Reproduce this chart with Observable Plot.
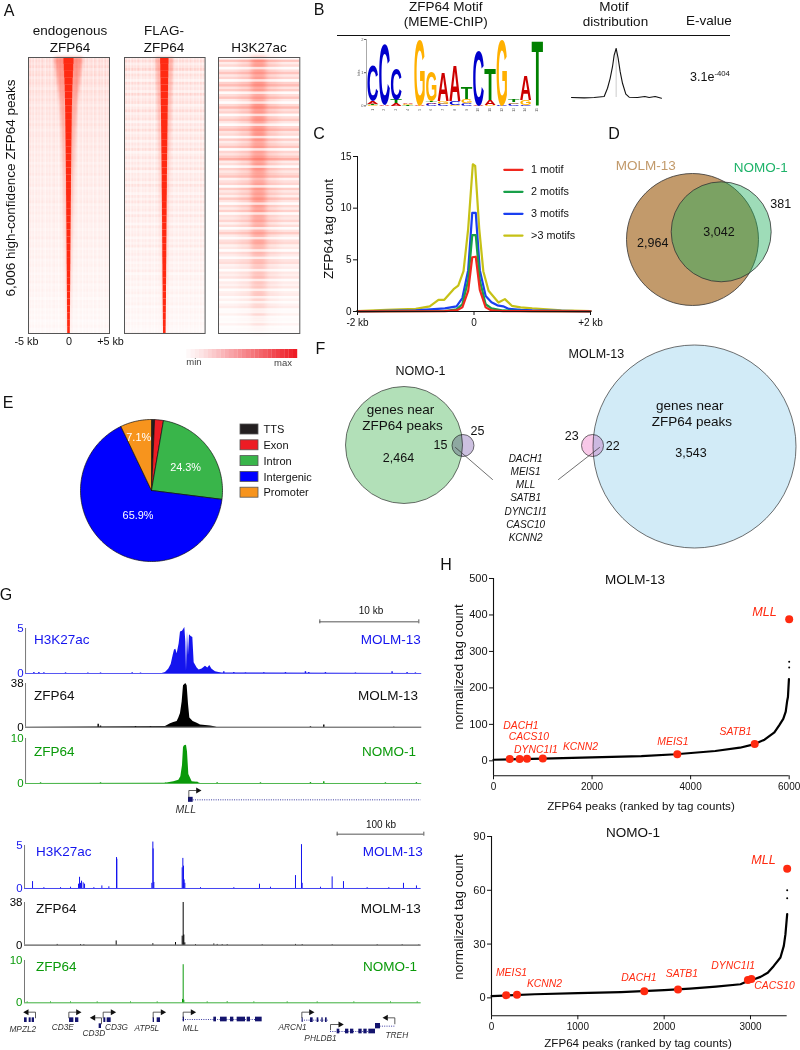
<!DOCTYPE html>
<html><head><meta charset="utf-8">
<style>
html,body{margin:0;padding:0;background:#fff}
#fig{position:relative;width:800px;height:1050px;overflow:hidden;font-family:"Liberation Sans",Arial,sans-serif;color:#111}
.n{position:absolute;white-space:nowrap;transform:translate(-50%,-50%);line-height:1}
.n sup{font-size:.62em;line-height:0}
svg{font-family:"Liberation Sans",Arial,sans-serif}
</style>
<script src="https://cdn.jsdelivr.net/npm/d3@7"></script>
<script src="https://cdn.jsdelivr.net/npm/@observablehq/plot@0.6"></script>
</head><body><div id="fig"></div>
<script>
// ---------- A: heat-map row summaries (top to bottom; half-widths in kb, levels 0-1)
const endoCore=[.62,.58,.54,.5,.47,.45,.43,.41,.4,.39,.38,.37,.36,.35,.34,.33,.32,.31,.3,.3,.29,.28,.28,.27,.26,.25,.25,.24,.23,.23,.22,.21,.21,.20,.19,.19,.18,.17,.17,.16];
const endoHaloW=[1.7,1.6,1.5,1.4,1.3,1.2,1.1,1.05,1,.95,.9,.85,.85,.8,.8,.75,.7,.7,.65,.65,.65,.6,.6,.55,.55,.55,.5,.5,.45,.45,.45,.4,.4,.4,.35,.35,.35,.3,.3,.3];
const endoHaloL=[.45,.42,.4,.38,.36,.34,.32,.32,.3,.3,.28,.28,.26,.25,.25,.24,.24,.22,.22,.22,.2,.2,.2,.18,.18,.18,.16,.16,.15,.15,.14,.14,.13,.12,.12,.11,.1,.1,.09,.08];
const endoBg=[.16,.2,.17,.22,.15,.19,.21,.14,.18,.2,.16,.13,.19,.17,.14,.18,.15,.12,.17,.14,.16,.13,.15,.12,.16,.13,.11,.14,.15,.12,.13,.11,.14,.12,.1,.13,.11,.12,.09,.12,.1,.11,.13,.09,.11,.1,.12,.08,.1,.11,.09,.1,.12,.08,.1,.09,.11,.08,.09,.1,.08,.09,.07,.09,.08,.1,.07,.08,.09,.06,.08,.07,.09,.06,.07,.08,.06,.07,.05,.07,.06,.08,.05,.06,.07,.05,.06,.04,.06,.05,.06,.04,.05,.04,.05,.03,.04,.05,.03,.04];
const flagCore=[.52,.5,.49,.47,.46,.45,.44,.42,.41,.4,.39,.38,.37,.36,.35,.34,.33,.32,.32,.31,.3,.29,.29,.28,.27,.27,.26,.25,.25,.24,.23,.23,.22,.21,.21,.2,.19,.18,.17,.16];
const flagHaloW=[1.1,1.05,1,1,.95,.9,.9,.85,.85,.8,.8,.75,.75,.7,.7,.65,.65,.6,.6,.6,.55,.55,.55,.5,.5,.5,.45,.45,.45,.4,.4,.4,.4,.35,.35,.35,.3,.3,.3,.3];
const flagHaloL=[.3,.3,.28,.28,.26,.26,.25,.24,.24,.22,.22,.2,.2,.2,.18,.18,.18,.16,.16,.16,.15,.15,.14,.14,.14,.13,.13,.12,.12,.11,.1,.1,.1,.09,.09,.08,.08,.07,.07,.06];
const flagBg=[.12,.2,.1,.16,.24,.09,.18,.13,.07,.2,.11,.15,.08,.22,.1,.14,.18,.07,.12,.2,.09,.13,.17,.06,.15,.1,.19,.08,.12,.16,.07,.14,.1,.18,.06,.11,.15,.08,.13,.09,.17,.06,.12,.1,.14,.07,.16,.09,.11,.06,.13,.08,.15,.07,.1,.12,.06,.14,.08,.1,.05,.12,.07,.09,.11,.05,.1,.07,.12,.05,.08,.1,.06,.09,.05,.08,.06,.1,.04,.07,.08,.05,.07,.04,.06,.08,.04,.06,.05,.07,.03,.05,.06,.04,.05,.03,.05,.04,.03,.04];
const grain=[.3,.05,.4,.15,.5,.1,.35,.2,.45,.05,.3,.5,.15,.35,.1,.45,.25,.05,.4,.2,.5,.1,.3,.15,.45,.05,.35,.25,.5,.1,.4,.2,.05,.45,.3,.15,.5,.1,.35,.05,.4,.25,.15,.5,.05,.3,.45,.1,.35,.2,.5,.05,.4,.15];
const h3Rows=[.05,.3,.1,.2,.04,.16,.3,.12,.22,.03,.24,.34,.14,.26,.05,.18,.3,.1,.02,.2,.36,.16,.24,.04,.18,.28,.12,.03,.22,.34,.14,.2,.05,.26,.1,.18,.3,.03,.22,.14,.26,.42,.1,.18,.04,.24,.12,.2,.3,.06,.16,.22,.03,.26,.12,.2,.08,.28,.14,.04,.2,.1,.24,.05,.16,.12,.22,.06,.18,.03,.14,.26,.1,.05,.16,.2,.07,.12,.03,.16,.1,.05,.14,.18,.06,.1,.03,.12,.08,.14,.04,.1,.06,.12,.03,.08,.1,.04,.07,.03,.06,.09,.03,.05,.07,.02,.05,.03,.06,.02,.04,.02];
const h3Peak=[.5,.42,.38,.44,.36,.34,.5,.42,.48,.38,.52,.44,.36,.4,.46,.48,.32,.38,.42,.46,.44,.36,.4,.3,.36,.38,.28,.26,.24,.22,.26,.2,.24,.18,.12,.16,.1,.08];
const barLevels=[.0,.03,.06,.09,.12,.16,.2,.24,.28,.32,.36,.4,.44,.48,.52,.56,.6,.64,.68,.72,.76,.8,.84,.88,.92,.96,1];

// ---------- B: motif logo, bottom-to-top letters per position, in bits
const logoStacks=[
 [["G",.03],["T",.03],["A",.08],["C",1.05]],
 [["A",.05],["C",1.8]],
 [["A",.08],["T",.1],["C",.92]],
 [["T",.04],["G",.03],["A",.05]],
 [["A",.02],["G",1.95]],
 [["C",.06],["A",.05],["T",.05],["G",.9]],
 [["C",.06],["G",.08],["A",.85]],
 [["G",.03],["C",.12],["A",1.05]],
 [["C",.08],["G",.12],["T",.35]],
 [["A",.03],["C",1.65]],
 [["G",.03],["A",.15],["T",.93]],
 [["C",.02],["G",1.95]],
 [["C",.07],["G",.05],["T",.06]],
 [["C",.04],["G",.14],["A",.72]],
 [["T",1.97]]];
const logoColors={A:"#cc0000",C:"#0000cc",G:"#ffb000",T:"#008000"};
const distPos=[752,790,820,850,860,868,875,880,886,892,898,905,915,925,950,972,985,1003,1022];
const distVal=[0,-1,0,3,28,58,93,128,148,118,78,43,10,1,0,3,0,3,-2];

// ---------- C: tag count profiles
const profiles=[
 {name:">3 motifs",color:"#c6c116",x:[-2,-1.5,-1,-.76,-.61,-.51,-.35,-.27,-.18,-.1,-.02,.02,.09,.16,.25,.42,.53,.65,.8,1,1.5,2],y:[.03,.15,.25,.5,1.13,1.13,2.16,2.5,3.9,8,14.25,14.1,8,3.9,2,.87,1.2,.55,.4,.3,.12,.03]},
 {name:"3 motifs",color:"#1a3ff0",x:[-2,-1,-.5,-.3,-.2,-.1,-.03,.03,.1,.2,.3,.4,.5,.6,.8,1,2],y:[.02,.1,.3,.5,1.3,4,9.55,9.55,4,1.5,.9,.6,.5,.25,.15,.1,.02]},
 {name:"2 motifs",color:"#18a04a",x:[-2,-.5,-.3,-.2,-.1,-.03,.03,.1,.2,.3,.5,1,2],y:[.02,.05,.2,.7,3,7.4,7.4,3,.7,.3,.1,.04,.02]},
 {name:"1 motif",color:"#f0281e",x:[-2,-.5,-.3,-.2,-.1,-.03,.03,.1,.2,.3,.5,2],y:[.02,.04,.1,.4,2,5.25,5.3,2.1,.4,.1,.04,.02]}];
const legendKb=[.52,.833];
const legendY=[13.71,11.58,9.45,7.35];

// ---------- E: genomic annotation
const pieNames=["TTS","Exon","Intron","Intergenic","Promoter"];
const pieValues=[.7,2.0,24.3,65.9,7.1];
const pieColors=["#231f20","#ed1c24","#39b54a","#0000ff","#f7941d"];

// ---------- G: browser tracks (x in browser units, y in track units)
const upperBlue=[[75,0],[485,0],[495,.1],[505,.5],[512,1],[518,2],[522,2.6],[526,2.7],[530,2.2],[536,3.3],[540,4.6],[546,4.7],[553,5.1],[556,3.5],[558,.3],[561,4.6],[564,2],[567,4.3],[572,4.1],[577,4],[581,1.2],[590,.6],[596,.4],[605,.5],[615,.8],[622,.6],[628,.9],[634,.5],[645,.2],[655,.1],[665,.05],[1264,0]];
const upperBlack=[[75,0],[495,.5],[510,3],[520,4],[530,5],[535,8],[540,12],[545,22],[549,36],[556,38],[560,36],[564,20],[568,8],[578,5],[590,3.5],[600,2],[615,1.5],[630,1],[643,.3],[650,0],[1264,0]];
const upperGreen=[[75,0],[495,.05],[520,.4],[535,.7],[541,1.5],[546,4],[549,8],[552,8.4],[558,8.5],[561,7],[565,2],[575,.4],[590,.25],[600,0],[1264,0]];
const upperBlueBlips=[[100,.1],[115,.1],[130,.08],[195,.07],[262,.06],[300,.06],[395,.08],[420,.05],[670,.18],[700,.1],[735,.06],[790,.07],[855,.1],[915,.2],[925,.12],[975,.1],[1065,.06],[1175,.18],[1220,.1],[1245,.07]];
const upperBlackBlips=[[293,2.5],[300,1],[405,.6],[450,.4],[930,.5],[970,1.8],[1180,.2]];
const upperGreenBlips=[[120,.15],[300,.15],[495,.1],[590,.25],[650,.15],[780,.15],[930,.2],[970,.4],[1155,.15],[1248,.2]];
const lowerBlue=[[96,.8],[130,.1],[180,.1],[210,.15],[234,.5],[237,1.3],[240,.6],[243,.85],[248,.65],[252,.5],[280,.1],[304,.3],[325,.2],[348,3.6],[349,3.4],[454,.6],[457,5.4],[458,4.6],[460,.7],[545,2.4],[547,3.5],[549,2.6],[551,1],[553,.6],[600,.1],[700,.1],[777,.5],[810,.15],[885,1.5],[903,5.1],[905,.6],[960,.15],[995,1.35],[1029,.8],[1100,.1],[1165,.1],[1209,.6],[1248,.3]];
const lowerBlack=[[170,.6],[240,.5],[250,.4],[347,3.7],[457,1.2],[525,2.3],[545,8],[548,38],[550,9],[553,2],[585,.5],[640,1],[650,.6],[665,.5],[680,.5],[785,.4],[885,.6],[905,.5],[995,.4],[1130,.4],[1205,.4],[1255,.3]];
const lowerGreen=[[80,.2],[150,.2],[210,.2],[290,.2],[390,.2],[470,.2],[546,.8],[548,9],[550,.6],[620,.2],[680,.25],[760,.2],[860,.2],[950,.2],[1060,.2],[1170,.2],[1250,.2]];
const tracksUp=[{c:"#1414ee",max:5,top:628.3,base:673.3,area:upperBlue,blips:upperBlueBlips},{c:"#000",max:38,top:683.3,base:727,area:upperBlack,blips:upperBlackBlips},{c:"#0a9a0a",max:10,top:738.3,base:783.3,area:upperGreen,blips:upperGreenBlips}];
const tracksLow=[{c:"#1414ee",max:5,top:845,base:888,spikes:lowerBlue},{c:"#000",max:38,top:901.7,base:944.3,spikes:lowerBlack},{c:"#0a9a0a",max:10,top:960,base:1002.3,spikes:lowerGreen}];

// gene models (browser units)
const genesUp=[{name:"MLL",start:565,dir:1,top:630,stem:650,head:603,y:658,exons:[[564,578]],intron:[578,1262],lx:556,ly:688,h:15}];
const genesLow=[
 {name:"MPZL2",start:105,dir:-1,top:605,stem:622,head:68,y:629,exons:[[72,80],[86,92],[95,102]],lx:67,ly:657,h:14},
 {name:"CD3E",start:205,dir:1,top:605,stem:622,head:243,y:629,exons:[[207,220],[225,235]],lx:187,ly:652,h:14},
 {name:"CD3D",start:303,dir:-1,top:622,stem:640,head:268,y:647,exons:[[296,303]],lx:280,ly:668,h:14},
 {name:"CD3G",start:308,dir:1,top:605,stem:622,head:347,y:629,exons:[[310,316],[320,332]],lx:348,ly:652,h:14},
 {name:"ATP5L",start:458,dir:1,top:605,stem:622,head:497,y:629,exons:[[458,462],[470,480]],lx:439,ly:654,h:14},
 {name:"MLL",start:548,dir:1,top:605,stem:620,head:587,y:627,intron:[548,780],exons:[[548,552],[640,648],[660,680],[690,700],[710,735],[740,750],[765,785]],lx:571,ly:654,h:14},
 {name:"ARCN1",start:904,dir:1,top:605,stem:622,head:942,y:629,intron:[905,983],exons:[[905,908],[930,938],[950,955],[964,968],[975,980]],lx:876,ly:652,h:14},
 {name:"PHLDB1",start:990,dir:1,top:642,stem:658,head:1030,y:663,intron:[990,1125],exons:[[1010,1018],[1035,1045],[1050,1060],[1075,1085],[1090,1100],[1105,1125]],lx:960,ly:683,h:14},
 {name:"TREH",start:1183,dir:-1,top:622,stem:640,head:1146,y:647,intron:[1125,1183],exons:[[1125,1140]],lx:1189,ly:676,h:16}];

// ---------- H: ranked peaks
const molmRank=[0,1000,2000,3000,3700,4500,5000,5300,5500,5700,5800,5880,5930,5960,5975,5985,5995];
const molmTags=[3,6,9.5,13,18,27,36,46,58,78,98,115,135,165,175,200,224];
const molmTopRank=[6000,6000];
const molmTopTags=[272,256];
const molmGeneRank=[330,530,680,1000,3730,5300,6000];
const molmGeneTags=[5,5,5.5,6.5,18,46,388];
const molmLabels=[["DACH1",556,96],["CACS10",718,66],["DYNC1I1",860,30],["KCNN2",1765,37.6],["MEIS1",3640,52],["SATB1",4911,80]];
const nomoRank=[0,500,1000,1500,2000,2300,2600,2884,2950,3050,3116,3200,3270,3347,3386,3405,3425];
const nomoTags=[1,2,2.6,3.2,4.3,5.2,6.3,7.6,9,10.5,11.7,14,17.8,22.5,29,35.5,46.7];
const nomoTopRank=[3425,3425];
const nomoTopTags=[60,55.6];
const nomoGeneRank=[170,295,1770,2160,2970,3010,3425];
const nomoGeneTags=[1.5,1.7,3.7,4.6,10,10.5,72];
const nomoLabels=[["MEIS1",232,14],["KCNN2",614,8],["DACH1",1707,11],["SATB1",2205,13.4],["DYNC1I1",2800,17.8],["CACS10",3278,6.7]];

// ---------- helpers
const root=document.getElementById("fig");
function note(x,y,html,o={}){
  const d=document.createElement("div");d.className="n";d.innerHTML=html;
  d.style.left=x+"px";d.style.top=y+"px";d.style.fontSize=(o.size||13.5)+"px";
  if(o.color)d.style.color=o.color;if(o.italic)d.style.fontStyle="italic";
  let t="translate(-50%,-50%)";if(o.anchor==="start")t="translate(0,-50%)";if(o.anchor==="end")t="translate(-100%,-50%)";
  if(o.rotate)t+=` rotate(${o.rotate}deg)`;d.style.transform=t;root.append(d);
}
function panel(L,T,R,B,opts,m={}){
  const ml=m.l??0,mr=m.r??0,mt=m.t??0,mb=m.b??0;
  const p=Plot.plot({width:R-L+ml+mr,height:B-T+mt+mb,marginLeft:ml,marginRight:mr,marginTop:mt,marginBottom:mb,
    style:{position:"absolute",left:(L-ml)+"px",top:(T-mt)+"px",background:"transparent",overflow:"visible",fontFamily:"Liberation Sans"},...opts});
  root.append(p);return p;
}
const idx=a=>a.map((_,i)=>i);
const fmtD=d3.format("d");

// ---------- A
function heat(L,R,core,haloW,haloL,bg){
  const I=idx(core),B=idx(bg),G=idx(grain);
  const band=(w,op)=>Plot.rect(I,{x1:i=>-w(i),x2:i=>w(i),y1:i=>i/I.length,y2:i=>(i+1)/I.length,fill:"#ff2a12",fillOpacity:op});
  const p=panel(L,56.7,R,332.7,{x:{domain:[-5,5],axis:null},y:{domain:[0,1],reverse:true,axis:null},opacity:{type:"identity"},
    marks:[
      Plot.rect(B,{x1:-5,x2:5,y1:i=>i/B.length,y2:i=>(i+1)/B.length,fill:"#ff2a12",fillOpacity:i=>bg[i]}),
      Plot.rect(G,{x1:i=>-5+i*10/G.length,x2:i=>-5+(i+1)*10/G.length,y1:0,y2:1,fill:"#fff",fillOpacity:i=>grain[i]}),
      band(i=>haloW[i],i=>haloL[i]),
      band(i=>core[i],()=>1),
      Plot.frame({stroke:"#555",strokeWidth:1})]});
  const gs=p.querySelectorAll('g[aria-label="rect"]');
  gs[2].style.filter="blur(1.6px)";gs[3].style.filter="blur(.5px)";
}
heat(28.3,109.3,endoCore,endoHaloW,endoHaloL,endoBg);
heat(123.7,204.3,flagCore,flagHaloW,flagHaloL,flagBg);
{
  const I=idx(h3Rows),J=idx(h3Peak);
  const p=panel(218,56.7,299.3,332.7,{x:{domain:[-5,5],axis:null},y:{domain:[0,1],reverse:true,axis:null},opacity:{type:"identity"},
    marks:[
      Plot.rect(J,{x1:-2.4,x2:2.4,y1:i=>i/J.length,y2:i=>(i+1)/J.length,fill:"#ff2a12",fillOpacity:i=>h3Peak[i]*.22}),
      Plot.rect(J,{x1:-.9,x2:.9,y1:i=>i/J.length,y2:i=>(i+1)/J.length,fill:"#ff2a12",fillOpacity:i=>h3Peak[i]*.65}),
      Plot.rect(I,{x1:-5,x2:5,y1:i=>i/I.length,y2:i=>(i+1)/I.length,fill:"#ff2a12",fillOpacity:i=>h3Rows[i]*.9}),
      Plot.rect(I,{x1:-5,x2:5,y1:i=>i/I.length,y2:i=>(i+1)/I.length,fill:"#fff",fillOpacity:i=>h3Rows[i]<.06?.6:0}),
      Plot.frame({stroke:"#555",strokeWidth:1})]});
  const gs=p.querySelectorAll('g[aria-label="rect"]');
  gs[0].style.filter="blur(3px)";gs[1].style.filter="blur(2.5px)";
}
note(70,31,"endogenous");note(70,48,"ZFP64");
note(164,31,"FLAG-");note(164,48,"ZFP64");
note(259,47.5,"H3K27ac");
note(11,188,"6,006 high-confidence ZFP64 peaks",{rotate:-90});
note(26.5,341,"-5 kb",{size:10.8});note(69,341,"0",{size:10.8});note(110.5,341,"+5 kb",{size:10.8});
panel(182,349,297,358,{x:{domain:[0,barLevels.length],axis:null},y:{domain:[0,1],axis:null},color:{type:"linear",domain:[0,1],range:["#ffffff","#ee1c25"]},
  marks:[Plot.rect(barLevels,{x1:(d,i)=>i,x2:(d,i)=>i+1.05,y1:0,y2:1,fill:d=>d})]});
note(194,362,"min",{size:9.5,color:"#444"});note(283,363,"max",{size:9.5,color:"#444"});

// ---------- B
note(445.7,7,"ZFP64 Motif");note(445.7,22,"(MEME-ChIP)");
note(614,7,"Motif");note(615.5,22,"distribution");note(709,21,"E-value");
panel(337,34,730,36,{x:{domain:[0,1],axis:null},y:{domain:[0,1],axis:null},marks:[Plot.ruleY([.5],{stroke:"#111",strokeWidth:1.2})]});
{
  const letters=logoStacks.flatMap((st,i)=>{let b=0;return st.map(([l,h])=>{const r={pos:i+1,letter:l,y0:b,h};b+=h;return r;});});
  const p=panel(366.1,39.3,542.6,105.7,{x:{domain:[.5,15.5],axis:null},y:{domain:[0,2],axis:null},
    marks:[
      Plot.ruleX([.5],{y1:0,y2:2,stroke:"#aaa"}),
      Plot.axisY({ticks:[0,1,2],tickFormat:fmtD,tickSize:2,tickPadding:1,fontSize:4,color:"#555",label:null,anchor:"left"}),
      Plot.text(idx(logoStacks),{x:i=>i+1,y:0,dy:4,text:i=>String(i+1),fontSize:3.5,rotate:-90,fill:"#555"}),
      Plot.text(["bits"],{x:.5,y:1,dx:-8,text:d=>d,fontSize:4,rotate:-90,fill:"#555"}),
      Plot.text(letters,{x:"pos",y:"y0",text:"letter",fill:d=>logoColors[d.letter],fontSize:20,fontWeight:"bold",textAnchor:"middle",fontFamily:"Liberation Sans"})]});
  const sx=p.scale("x"),sy=p.scale("y");
  const ctx=document.createElement("canvas").getContext("2d");ctx.font='bold 20px "Liberation Sans"';ctx.textAlign="center";
  const groups=[...p.querySelectorAll('g[aria-label="text"]')];
  const els=groups[groups.length-1].querySelectorAll("text");
  const colW=(sx.apply(2)-sx.apply(1))*.97;
  els.forEach((el,k)=>{
    const d=letters[k],m=ctx.measureText(d.letter);
    const W=m.actualBoundingBoxLeft+m.actualBoundingBoxRight,H=m.actualBoundingBoxAscent+m.actualBoundingBoxDescent;
    const X=sx.apply(d.pos),Y=sy.apply(d.y0),px=sy.apply(0)-sy.apply(d.h);
    el.setAttribute("y","0");el.setAttribute("dy","0");
    el.setAttribute("transform",`translate(${X},${Y}) scale(${colW/W},${px/H}) translate(${-(m.actualBoundingBoxRight-m.actualBoundingBoxLeft)/2},${-m.actualBoundingBoxDescent})`);
  });
}
panel(570.7,48.3,660.7,98,{x:{domain:[752,1022],axis:null},y:{domain:[-2,148],axis:null},
  marks:[Plot.ruleX([886],{y1:0,y2:148,stroke:"#ccc"}),Plot.line(idx(distPos),{x:i=>distPos[i],y:i=>distVal[i],stroke:"#111",strokeWidth:1.1})]});
note(710,76.5,"3.1e<sup>-404</sup>",{size:12.5});

// ---------- C
{
  const kbFmt=d=>d===-2?"-2 kb":d===2?"+2 kb":"0";
  panel(357,155.7,590,310.7,{x:{domain:[-2,2]},y:{domain:[0,15]},
   marks:[
    ...profiles.map(s=>Plot.line(idx(s.x),{x:i=>s.x[i],y:i=>s.y[i],stroke:s.color,strokeWidth:2.2})),
    Plot.ruleX([-2],{stroke:"#111"}),Plot.ruleY([0],{stroke:"#111"}),
    Plot.axisX({ticks:[-2,0,2],tickFormat:kbFmt,tickSize:4,tickPadding:3,fontSize:10,label:null,color:"#111"}),
    Plot.axisY({ticks:[0,5,10,15],tickFormat:fmtD,tickSize:4,tickPadding:2,fontSize:10,label:null,color:"#111"}),
    ...[...profiles].reverse().map((s,k)=>Plot.line(legendKb,{x:d=>d,y:()=>legendY[k],stroke:s.color,strokeWidth:2.2})),
    Plot.text([...profiles].reverse(),{x:.98,y:(d,k)=>legendY[k],text:"name",textAnchor:"start",fontSize:10.8,fill:"#111"})
   ]},{l:30,b:25,t:5,r:15});
  note(329,229,"ZFP64 tag count",{rotate:-90});
}

// ---------- D
{
  const venn=[{x:66,y:65,r:66,fill:"#c29a6b",op:1},{x:94.7,y:57.3,r:50,fill:"#1bad58",op:.426}];
  panel(626,174,758.7+12,304,{x:{domain:[0,144.7],axis:null},y:{domain:[0,130],reverse:true,axis:null},r:{type:"identity"},opacity:{type:"identity"},
    marks:venn.map(c=>Plot.dot([c],{x:"x",y:"y",r:"r",fill:c.fill,fillOpacity:c.op,stroke:"#333",strokeWidth:.8}))},{});
  note(645.7,166,"MOLM-13",{color:"#c29a6b"});
  note(760.7,168,"NOMO-1",{color:"#1fb36a"});
  note(780.7,203.5,"381",{size:12.5});
  note(652.7,243,"2,964",{size:12.5});
  note(719,232,"3,042",{size:12.5});
}

// ---------- E
{
  const arcs=d3.pie().sort(null)(pieValues);
  const wedge=a=>{const n=Math.max(2,Math.ceil((a.endAngle-a.startAngle)*40));
    return [[0,0],...d3.range(n+1).map(k=>{const t=a.startAngle+(a.endAngle-a.startAngle)*k/n;return [Math.sin(t),Math.cos(t)];})];};
  panel(80,419,222,561,{x:{domain:[-1,1],axis:null},y:{domain:[-1,1],axis:null},
    marks:[
     ...arcs.map((a,i)=>Plot.line([...wedge(a),[0,0]],{x:d=>d[0],y:d=>d[1],fill:pieColors[i],stroke:"#111",strokeWidth:.7,curve:"linear"})),
     Plot.text([["7.1%",-.18,.75],["24.3%",.48,.325],["65.9%",-.19,-.35]],{x:d=>d[1],y:d=>d[2],text:d=>d[0],fill:"#fff",fontSize:10.9})
    ]});
  panel(240,421,320,500,{x:{domain:[0,80],axis:null},y:{domain:[0,79],reverse:true,axis:null},
    marks:[
      Plot.rect(pieNames,{x1:0,x2:18,y1:(d,i)=>3+i*15.8,y2:(d,i)=>13+i*15.8,fill:(d,i)=>pieColors[i],stroke:"#555",strokeWidth:.8}),
      Plot.text(pieNames,{x:23,y:(d,i)=>8.2+i*15.8,text:d=>d,textAnchor:"start",fontSize:11,fill:"#111"})]});
}

// ---------- F
{
  const circs=[{x:403.5,y:444.5,r:58.5,fill:"#b2e0b8"},{x:694,y:446,r:101.5,fill:"#d2ebf7"},{x:462.5,y:445,r:11,fill:"#ccc0e0",mult:1},{x:592,y:445,r:11,fill:"#f8c8e8",mult:1}];
  panel(330,340,800,560,{x:{domain:[330,800],axis:null},y:{domain:[340,560],reverse:true,axis:null},r:{type:"identity"},
    marks:[
      ...circs.map(c=>Plot.dot([c],{x:"x",y:"y",r:"r",fill:c.fill,stroke:"#333",strokeWidth:.7,mixBlendMode:c.mult?"multiply":"normal"})),
      Plot.line([[455,447],[492,479]],{x:d=>d[0],y:d=>d[1],stroke:"#333",strokeWidth:.7}),
      Plot.line([[558,479],[599,447]],{x:d=>d[0],y:d=>d[1],stroke:"#333",strokeWidth:.7})]});
  note(420.5,370.7,"NOMO-1",{size:12.5});note(400.5,410,"genes near");note(402.5,425.7,"ZFP64 peaks");note(398.5,458,"2,464",{size:12.5});
  note(477.4,431,"25",{size:12.5});note(440.5,445,"15",{size:12.5});
  ["DACH1","MEIS1","MLL","SATB1","DYNC1I1","CASC10","KCNN2"].forEach((g,i)=>note(525.6,459+i*13.15,g,{size:10,italic:true}));
  note(596.4,353.5,"MOLM-13",{size:12.5});note(689.7,405.7,"genes near");note(691.8,421.7,"ZFP64 peaks");note(691,453,"3,543",{size:12.5});
  note(571.8,436,"23",{size:12.5});note(612.8,446,"22",{size:12.5});
}

// ---------- G
function trackUp(t){
  panel(25,t.top,421.3,t.base,{x:{domain:[75,1264],axis:null},y:{domain:[0,t.max]},
    marks:[
      Plot.areaY(t.area,{x:d=>d[0],y:d=>d[1],fill:t.c,curve:"linear"}),
      Plot.ruleX(t.blips,{x:d=>d[0],y1:0,y2:d=>d[1],stroke:t.c,strokeWidth:1.4}),
      Plot.ruleY([0],{stroke:t.c,strokeWidth:.9,strokeOpacity:.8}),
      Plot.ruleX([75],{y1:0,y2:t.max,stroke:"#777",strokeWidth:1}),
      Plot.axisY({ticks:[0,t.max],tickFormat:fmtD,tickSize:0,tickPadding:2,fontSize:11.5,color:t.c,label:null})
    ]},{l:25,t:6,b:6});
}
tracksUp.forEach(trackUp);
function trackLow(t){
  panel(24,t.top,420.7,t.base,{x:{domain:[72,1262],axis:null},y:{domain:[0,t.max]},
    marks:[
      Plot.ruleX(t.spikes,{x:d=>d[0],y1:0,y2:d=>d[1],stroke:t.c,strokeWidth:1}),
      Plot.ruleY([0],{stroke:t.c,strokeWidth:1,strokeOpacity:.8}),
      Plot.ruleX([72],{y1:0,y2:t.max,stroke:"#777",strokeWidth:1}),
      Plot.axisY({ticks:[0,t.max],tickFormat:fmtD,tickSize:0,tickPadding:2,fontSize:11.5,color:t.c,label:null})
    ]},{l:24,t:6,b:6});
}
tracksLow.forEach(trackLow);
function geneMarks(list,fs){
  return list.flatMap(g=>{
    const headLen=g.dir*16;
    return [
      ...(g.intron?[Plot.ruleY([g.y],{x1:g.intron[0],x2:g.intron[1],stroke:"#3a3aa0",strokeWidth:1,strokeDasharray:"1,1.3"})]:[]),
      Plot.rect(g.exons,{x1:d=>d[0],x2:d=>d[1],y1:g.y-g.h/2,y2:g.y+g.h/2,fill:"#14146e"}),
      Plot.line([[g.start,g.stem],[g.start,g.top],[g.head-headLen,g.top]],{x:d=>d[0],y:d=>d[1],stroke:"#333",strokeWidth:.8}),
      Plot.line([[g.head-headLen,g.top-9],[g.head,g.top],[g.head-headLen,g.top+9],[g.head-headLen,g.top-9]],{x:d=>d[0],y:d=>d[1],fill:"#111",stroke:"none"}),
      Plot.text([g],{x:"lx",y:"ly",text:"name",fontStyle:"italic",fontSize:fs,fill:"#333"})];
  });
}
const bUnits={x:{domain:[0,1320],axis:null},y:{domain:[0,720],reverse:true,axis:null}};
panel(0,580,440,820,{...bUnits,marks:[
  ...geneMarks(genesUp,10.5),
  Plot.ruleY([124],{x1:958,x2:1255,stroke:"#555",strokeWidth:1}),
  Plot.ruleX([958,1255],{y1:118,y2:130,stroke:"#555",strokeWidth:1})]});
panel(0,810,440,1050,{...bUnits,marks:[
  ...geneMarks(genesLow,8.3),
  Plot.ruleY([71],{x1:1010,x2:1270,stroke:"#555",strokeWidth:1}),
  Plot.ruleX([1010,1270],{y1:65,y2:77,stroke:"#555",strokeWidth:1})]});
note(6,595,"G",{size:16});
note(371,611.3,"10 kb",{size:10});note(381,824.7,"100 kb",{size:10});
const blue="#1414ee",green="#0a9a0a";
note(34,640,"H3K27ac",{anchor:"start",color:blue});note(420.7,640,"MOLM-13",{anchor:"end",color:blue});
note(34,695.7,"ZFP64",{anchor:"start"});note(418,695.7,"MOLM-13",{anchor:"end"});
note(34,751.7,"ZFP64",{anchor:"start",color:green});note(416,751.7,"NOMO-1",{anchor:"end",color:green});
note(36,852,"H3K27ac",{anchor:"start",color:blue});note(422.7,852,"MOLM-13",{anchor:"end",color:blue});
note(36,909,"ZFP64",{anchor:"start"});note(420.7,909,"MOLM-13",{anchor:"end"});
note(36,966.7,"ZFP64",{anchor:"start",color:green});note(417,966.7,"NOMO-1",{anchor:"end",color:green});

// ---------- H
function ranked(box,xMax,yMin,yMax,xt,yt,rank,tags,topR,topT,gr,gt,labels,mll){
  panel(box[0],box[1],box[2],box[3],{x:{domain:[0,xMax]},y:{domain:[yMin,yMax]},
    marks:[
      Plot.ruleX([0],{y1:yMin,y2:yMax,stroke:"#111",strokeWidth:1.1}),
      Plot.ruleY([yMin],{x1:0,x2:xMax,stroke:"#111",strokeWidth:1.1}),
      Plot.line(idx(rank),{x:i=>rank[i],y:i=>tags[i],stroke:"#000",strokeWidth:2.2}),
      Plot.dot(idx(topR),{x:i=>topR[i],y:i=>topT[i],r:1,fill:"#000"}),
      Plot.dot(idx(gr),{x:i=>gr[i],y:i=>gt[i],r:4,fill:"#ff2a10"}),
      Plot.text(labels,{x:d=>d[1],y:d=>d[2],text:d=>d[0],fill:"#ff2a10",fontStyle:"italic",fontSize:10.4}),
      Plot.text([mll],{x:d=>d[1],y:d=>d[2],text:d=>d[0],fill:"#ff2a10",fontStyle:"italic",fontSize:12.6}),
      Plot.axisX({ticks:xt,tickFormat:fmtD,tickSize:4,tickPadding:3,fontSize:10,label:null,color:"#111"}),
      Plot.axisY({ticks:yt,tickFormat:fmtD,tickSize:4,tickPadding:2,fontSize:11,label:null,color:"#111"})
    ]},{l:32,b:22,t:6,r:11});
}
ranked([493.3,577.7,789,775],6000,-41,500,[0,2000,4000,6000],[0,100,200,300,400,500],molmRank,molmTags,molmTopRank,molmTopTags,molmGeneRank,molmGeneTags,molmLabels,["MLL",5500,408]);
ranked([491,835.7,786.7,1015],3425,-10,90,[0,1000,2000,3000],[0,30,60,90],nomoRank,nomoTags,nomoTopRank,nomoTopTags,nomoGeneRank,nomoGeneTags,nomoLabels,["MLL",3150,77]);
note(635,580,"MOLM-13");note(633,833,"NOMO-1");
note(459,666.7,"normalized tag count",{rotate:-90});note(459,916.7,"normalized tag count",{rotate:-90});
note(641,806,"ZFP64 peaks (ranked by tag counts)",{size:11.6});note(638,1043,"ZFP64 peaks (ranked by tag counts)",{size:11.6});

// panel letters
[["A",9,11],["B",319,10],["C",319,134],["D",614,134],["E",8,403],["F",320.5,349],["H",446,565]].forEach(([t,x,y])=>note(x,y,t,{size:16}));
</script>
</body></html>
